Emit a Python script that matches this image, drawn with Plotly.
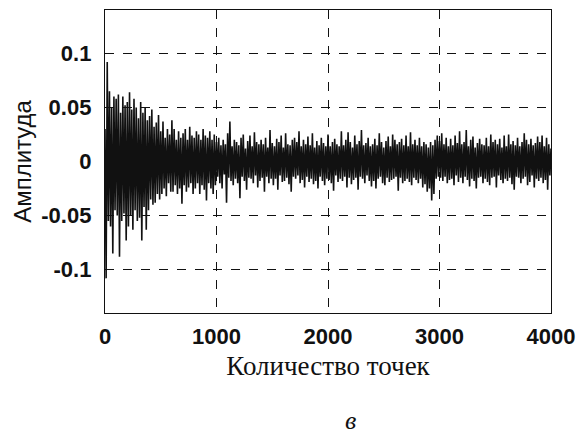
"""Decaying noise signal: amplitude vs point count."""
import plotly.graph_objects as go

step = 10
amplitude = [
    0.030, -0.108, 0.092, -0.055, 0.065, -0.060, 0.050, -0.085, 0.060, -0.045,
    0.058, -0.050, 0.062, -0.088, 0.045, -0.055, 0.060, -0.048, 0.052, -0.073,
    0.055, -0.060, 0.064, -0.050, 0.048, -0.063, 0.058, -0.045, 0.050, -0.055,
    0.040, -0.052, 0.055, -0.073, 0.045, -0.042, 0.050, -0.063, 0.038, -0.045,
    0.042, -0.035, 0.048, -0.040, 0.032, -0.038, 0.036, -0.030, 0.043, -0.035,
    0.028, -0.030, 0.037, -0.025, 0.022, -0.032, 0.030, -0.020, 0.025, -0.028,
    0.038, -0.028, 0.030, -0.022, 0.020, -0.030, 0.028, -0.025, 0.022, -0.039,
    0.026, -0.022, 0.030, -0.028, 0.020, -0.024, 0.032, -0.020, 0.024, -0.030,
    0.022, -0.025, 0.028, -0.020, 0.025, -0.030, 0.020, -0.022, 0.030, -0.026,
    0.024, -0.036, 0.022, -0.020, 0.028, -0.025, 0.020, -0.030, 0.025, -0.022,
    0.018, -0.014, 0.022, -0.020, 0.015, -0.025, 0.020, -0.012, 0.016, -0.038,
    0.026, -0.015, 0.037, -0.018, 0.014, -0.022, 0.020, -0.016, 0.018, -0.020,
    0.015, -0.034, 0.022, -0.014, 0.025, -0.018, 0.012, -0.026, 0.019, -0.015,
    0.024, -0.016, 0.014, -0.020, 0.027, -0.013, 0.018, -0.024, 0.016, -0.018,
    0.020, -0.015, 0.016, -0.028, 0.022, -0.014, 0.013, -0.020, 0.029, -0.016,
    0.017, -0.022, 0.014, -0.016, 0.021, -0.026, 0.018, -0.013, 0.024, -0.019,
    0.013, -0.018, 0.026, -0.015, 0.016, -0.021, 0.015, -0.028, 0.020, -0.014,
    0.022, -0.016, 0.018, -0.013, 0.028, -0.020, 0.014, -0.017, 0.020, -0.024,
    0.016, -0.014, 0.023, -0.019, 0.015, -0.016, 0.026, -0.021, 0.013, -0.018,
    0.019, -0.025, 0.015, -0.014, 0.022, -0.018, 0.017, -0.022, 0.014, -0.016,
    0.025, -0.017, 0.014, -0.020, 0.018, -0.027, 0.021, -0.013, 0.016, -0.019,
    0.014, -0.016, 0.028, -0.018, 0.015, -0.014, 0.020, -0.024, 0.027, -0.015,
    0.018, -0.021, 0.013, -0.017, 0.024, -0.015, 0.016, -0.026, 0.019, -0.014,
    0.029, -0.016, 0.015, -0.020, 0.017, -0.013, 0.022, -0.018, 0.014, -0.023,
    0.016, -0.018, 0.021, -0.025, 0.015, -0.016, 0.026, -0.014, 0.018, -0.020,
    0.013, -0.022, 0.019, -0.015, 0.023, -0.019, 0.014, -0.017, 0.025, -0.016,
    0.020, -0.014, 0.016, -0.027, 0.018, -0.015, 0.021, -0.020, 0.015, -0.018,
    0.024, -0.016, 0.014, -0.019, 0.027, -0.022, 0.016, -0.015, 0.020, -0.017,
    0.015, -0.020, 0.022, -0.016, 0.014, -0.024, 0.018, -0.021, 0.016, -0.028,
    0.013, -0.025, 0.018, -0.036, 0.015, -0.030, 0.020, -0.016, 0.024, -0.014,
    0.019, -0.015, 0.026, -0.018, 0.016, -0.014, 0.022, -0.020, 0.014, -0.017,
    0.021, -0.016, 0.015, -0.022, 0.024, -0.013, 0.017, -0.019, 0.028, -0.015,
    0.016, -0.020, 0.018, -0.014, 0.029, -0.017, 0.014, -0.023, 0.020, -0.016,
    0.023, -0.018, 0.013, -0.025, 0.017, -0.015, 0.021, -0.014, 0.016, -0.020,
    0.015, -0.016, 0.022, -0.019, 0.014, -0.022, 0.025, -0.015, 0.018, -0.014,
    0.020, -0.024, 0.016, -0.013, 0.021, -0.017, 0.013, -0.020, 0.024, -0.016,
    0.014, -0.018, 0.025, -0.015, 0.016, -0.021, 0.019, -0.026, 0.015, -0.014,
    0.022, -0.015, 0.014, -0.020, 0.018, -0.016, 0.026, -0.014, 0.020, -0.022,
    0.016, -0.019, 0.021, -0.013, 0.015, -0.024, 0.017, -0.016, 0.023, -0.018,
    0.018, -0.015, 0.024, -0.020, 0.014, -0.017, 0.022, -0.026, 0.016, -0.013,
    0.012,
]
x_ticks = [0, 1000, 2000, 3000, 4000]
y_ticks = [-0.1, -0.05, 0, 0.05, 0.1]
y_tick_text = ["-0.1", "-0.05", "0", "0.05", "0.1"]

points = [i * step for i in range(len(amplitude))]

tick_font = dict(family="Liberation Sans, Arial, sans-serif", size=22, color="#111", weight="bold")

fig = go.Figure()
fig.add_trace(
    go.Scatter(
        x=points,
        y=amplitude,
        mode="lines",
        line=dict(color="#111111", width=1.6),
        showlegend=False,
    )
)

axis_common = dict(
    showline=True,
    linecolor="#111",
    linewidth=1.3,
    mirror=True,
    showgrid=True,
    gridcolor="#111",
    griddash="dash",
    gridwidth=1,
    zeroline=False,
    ticks="",
    tickfont=tick_font,
    automargin=False,
)

fig.update_xaxes(
    range=[0, 4000],
    tickvals=x_ticks,
    ticklabelstandoff=3,
    title=dict(
        text="Количество точек",
        font=dict(family="Liberation Serif, Times New Roman, serif", size=27, color="#111"),
        standoff=8,
    ),
    **axis_common,
)
fig.update_yaxes(
    range=[-0.14, 0.14],
    tickvals=y_ticks,
    ticktext=y_tick_text,
    ticklabelstandoff=8,
    title=dict(
        text="Амплитуда",
        font=dict(family="Liberation Sans, Arial, sans-serif", size=24, color="#111"),
        standoff=2,
    ),
    **axis_common,
)

fig.add_annotation(
    text="<i>в</i>",
    xref="paper", yref="paper",
    x=0.55, y=-0.355,
    xanchor="center", yanchor="middle",
    showarrow=False,
    font=dict(family="Liberation Serif, Times New Roman, serif", size=26, color="#111"),
)

fig.update_layout(
    width=582,
    height=436,
    margin=dict(l=105, r=31, t=10, b=123),
    paper_bgcolor="#ffffff",
    plot_bgcolor="#ffffff",
)

# page body has a default 8px margin; drop it so the figure sits at the corner
fig.write_html(
    "out.html",
    config={"displayModeBar": False},
    post_script="document.body.style.margin = '0';",
)
